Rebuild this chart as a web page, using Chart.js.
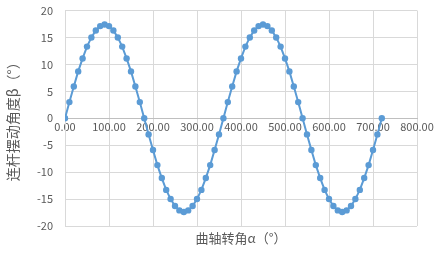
<!DOCTYPE html>
<html><head><meta charset="utf-8">
<script src="https://cdn.jsdelivr.net/npm/chart.js@4/dist/chart.umd.min.js"></script>
<style>html,body{margin:0;padding:0;background:#fff}#wrap{width:442px;height:255px}</style>
</head><body><div id="wrap"><canvas id="c" width="442" height="255"></canvas></div>
<script>
const crankAngles = [0,10,20,30,40,50,60,70,80,90,100,110,120,130,140,150,160,170,180,
190,200,210,220,230,240,250,260,270,280,290,300,310,320,330,340,350,360,
370,380,390,400,410,420,430,440,450,460,470,480,490,500,510,520,530,540,
550,560,570,580,590,600,610,620,630,640,650,660,670,680,690,700,710,720];
const rockerAngles = [0,3.0,5.9,8.7,11.1,13.3,15.0,16.3,17.1,17.4,17.1,16.3,15.0,13.3,11.1,8.7,5.9,3.0,0,
-3.0,-5.9,-8.7,-11.1,-13.3,-15.0,-16.3,-17.1,-17.4,-17.1,-16.3,-15.0,-13.3,-11.1,-8.7,-5.9,-3.0,0,
3.0,5.9,8.7,11.1,13.3,15.0,16.3,17.1,17.4,17.1,16.3,15.0,13.3,11.1,8.7,5.9,3.0,0,
-3.0,-5.9,-8.7,-11.1,-13.3,-15.0,-16.3,-17.1,-17.4,-17.1,-16.3,-15.0,-13.3,-11.1,-8.7,-5.9,-3.0,0];
const xTitle = '曲轴转角α（°）';
const yTitle = '连杆摆动角度β（°）';

const pts = crankAngles.map((x,i)=>({x:x,y:rockerAngles[i]}));
const FONT = '"Noto Sans CJK SC", "Noto Sans", sans-serif';
const xTitlePlugin = {
  id: 'xTitle',
  afterDraw(chart) {
    const a = chart.chartArea, ctx = chart.ctx;
    ctx.save();
    ctx.font = '13px ' + FONT;
    ctx.fillStyle = '#595959';
    ctx.textAlign = 'center';
    ctx.textBaseline = 'middle';
    ctx.fillText(xTitle, (a.left + a.right) / 2, a.bottom + 12);
    ctx.restore();
  }
};
new Chart(document.getElementById('c'), {
  type: 'scatter',
  data: { datasets: [{
    data: pts, showLine: true,
    borderColor: '#5B9BD5', backgroundColor: '#5B9BD5',
    borderWidth: 2, pointRadius: 3.2, pointHoverRadius: 3.2, pointBorderWidth: 0
  }]},
  plugins: [xTitlePlugin],
  options: {
    responsive: false, animation: false,
    layout: { padding: { top: 0, right: 25, left: 4, bottom: 29 } },
    plugins: { legend: { display: false }, tooltip: { enabled: false } },
    scales: {
      x: {
        type: 'linear', min: 0, max: 800, position: { y: 0 },
        ticks: { stepSize: 100, color: '#595959', font: { family: FONT, size: 11 },
          callback: v => v.toFixed(2), maxRotation: 0, padding: 2 },
        grid: { color: '#D9D9D9', drawTicks: false },
        border: { color: '#BFBFBF' },
        afterFit: s => { s.height = 0; }
      },
      y: {
        min: -20, max: 20,
        ticks: { stepSize: 5, color: '#595959', font: { family: FONT, size: 11 }, padding: 12 },
        grid: { color: '#D9D9D9', drawTicks: false },
        border: { color: '#D9D9D9' },
        title: { display: true, text: yTitle, color: '#595959', font: { family: FONT, size: 14 }, padding: { top: 0, bottom: 3 } },
        afterFit: s => { s.width = 61; s.paddingTop = 10.5; s.paddingBottom = 0; }
      }
    }
  }
});
</script></body></html>
